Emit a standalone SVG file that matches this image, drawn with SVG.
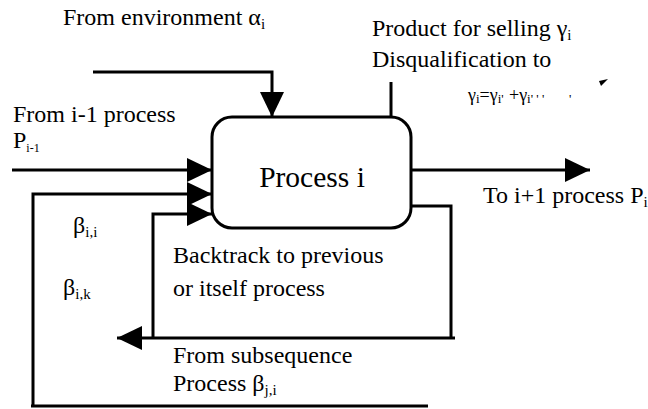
<svg xmlns="http://www.w3.org/2000/svg" width="648" height="409" viewBox="0 0 648 409">
<defs>
<style>
.t{font-family:'Liberation Serif','Times New Roman','DejaVu Serif',serif;fill:#000;font-size:24px}
.sub{font-size:15px}
.ln{fill:none;stroke:#000;stroke-width:3}
</style>
<marker id="ah" viewBox="0 0 25 24" refX="25" refY="12" markerWidth="25" markerHeight="24" markerUnits="userSpaceOnUse" orient="auto">
<path d="M0,0 L25,12 L0,24 Z" fill="#000"/>
</marker>
</defs>
<rect width="648" height="409" fill="#fff"/>
<g id="connectors">
<path class="ln" d="M93,72 H272 V117" marker-end="url(#ah)"/>
<path class="ln" d="M391,82 V117"/>
<path class="ln" d="M12,170 H212" marker-end="url(#ah)"/>
<path class="ln" d="M33,406 V194 H212" marker-end="url(#ah)"/>
<path class="ln" d="M153,338 V214 H212" marker-end="url(#ah)"/>
<path class="ln" d="M411,170 H590" marker-end="url(#ah)"/>
<path class="ln" d="M411,206 H451 V338"/>
<path class="ln" d="M455,338 H117" marker-end="url(#ah)"/>
<path class="ln" d="M31,406 H428"/>
<path d="M599,81 L608,79 L601,86 Z" fill="#000"/>
</g>
<g id="process">
<rect x="212" y="117" width="199" height="111" rx="20" ry="20" fill="#fff" stroke="#000" stroke-width="3"/>
<text class="t" x="312" y="187" text-anchor="middle" style="font-size:29.5px">Process i</text>
</g>
<g id="labels">
<text class="t" x="63" y="25">From environment α<tspan class="sub" dy="4">i</tspan></text>
<text class="t" x="372" y="36">Product for selling γ<tspan class="sub" dy="4">i</tspan></text>
<text class="t" x="372" y="67">Disqualification to</text>
<text class="t" x="468" y="101" style="font-size:18px">γ<tspan style="font-size:13px" dy="2">i</tspan><tspan dy="-2">=γ</tspan><tspan style="font-size:13px" dy="2">i'</tspan><tspan x="509" dy="-2">+γ</tspan><tspan style="font-size:13px" dy="2">i' ' '</tspan><tspan x="569" style="font-size:13px">'</tspan></text>
<text class="t" x="13" y="122">From i-1 process</text>
<text class="t" x="13" y="148">P<tspan style="font-size:12px" dy="4">i-1</tspan></text>
<text class="t" x="483" y="203">To i+1 process P<tspan class="sub" dy="4">i</tspan></text>
<text class="t" x="73" y="233">β<tspan class="sub" dy="4">i,i</tspan></text>
<text class="t" x="63" y="295">β<tspan class="sub" dy="4">i,k</tspan></text>
<text class="t" x="173" y="263">Backtrack to previous</text>
<text class="t" x="173" y="296">or itself process</text>
<text class="t" x="173" y="363">From subsequence</text>
<text class="t" x="173" y="391">Process β<tspan class="sub" dy="4">j,i</tspan></text>
</g>
</svg>
